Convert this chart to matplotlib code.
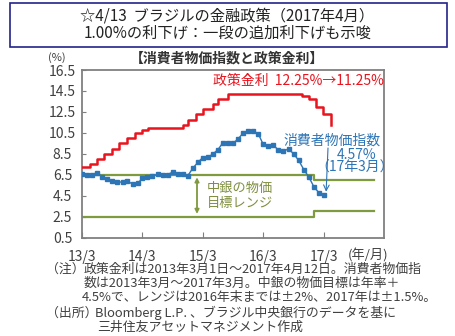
import datetime as dt
import matplotlib
matplotlib.use("Agg")
import matplotlib.pyplot as plt
import matplotlib.dates as mdates
from matplotlib.patches import Rectangle

plt.rcParams['font.family'] = ['Noto Sans CJK JP', 'DejaVu Sans']

# Policy rate (Selic) change dates and levels, %
rate_dates = ["2013-03-01", "2013-04-18", "2013-05-30", "2013-07-11", "2013-08-29",
              "2013-10-10", "2013-11-28", "2014-01-16", "2014-02-27", "2014-04-03",
              "2014-10-30", "2014-12-04", "2015-01-22", "2015-03-05", "2015-04-30",
              "2015-06-04", "2015-07-30", "2016-10-20", "2016-12-01", "2017-01-12",
              "2017-02-23", "2017-04-12"]
rate_values = [7.25, 7.50, 8.00, 8.50, 9.00, 9.50, 10.00, 10.50, 10.75, 11.00,
               11.25, 11.75, 12.25, 12.75, 13.25, 13.75, 14.25, 14.00, 13.75, 13.00,
               12.25, 11.25]

# Consumer price index (IPCA), year-on-year %, 2013/3 - 2017/3
cpi_start = "2013-03"
cpi_values = [6.59, 6.49, 6.50, 6.70, 6.27, 6.09, 5.86, 5.84, 5.77, 5.91,
              5.59, 5.68, 6.15, 6.28, 6.37, 6.52, 6.50, 6.51, 6.75, 6.59, 6.56, 6.41,
              7.14, 7.70, 8.13, 8.17, 8.47, 8.89, 9.56, 9.53, 9.49, 9.93, 10.48, 10.67,
              10.71, 10.36, 9.39, 9.28, 9.32, 8.84, 8.74, 8.97, 8.48, 7.87, 6.99, 6.29,
              5.35, 4.76, 4.57]

# Central bank inflation target range
target_dates = ["2013-03-01", "2017-01-01", "2018-01-01"]
target_upper = [6.5, 6.0, 6.0]
target_lower = [2.5, 3.0, 3.0]

x_ticks = ["2013-03-01", "2014-03-01", "2015-03-01", "2016-03-01", "2017-03-01"]
x_tick_labels = ["13/3", "14/3", "15/3", "16/3", "17/3"]
y_ticks = [0.5, 2.5, 4.5, 6.5, 8.5, 10.5, 12.5, 14.5, 16.5]

RED = "#E8141E"
BLUE = "#2E75B6"
OLIVE = "#7F9A3F"
OLIVE_TXT = "#7F8F3F"
GRAY = "#404040"

def to_date(s):
    return dt.datetime.strptime(s, "%Y-%m-%d")

rd = [to_date(s) for s in rate_dates]
y0, m0 = map(int, cpi_start.split("-"))
cd = []
for i in range(len(cpi_values)):
    m = m0 - 1 + i
    cd.append(dt.datetime(y0 + m // 12, m % 12 + 1, 1))
td = [to_date(s) for s in target_dates]

W, H = 456, 336
fig = plt.figure(figsize=(W / 100, H / 100), dpi=100)

def fx(x):
    return x / W

def fy(y):
    return 1 - y / H

# Title box
fig.patches.append(Rectangle((fx(10), fy(47)), fx(437), 44 / H, transform=fig.transFigure,
                             fill=False, edgecolor="#22228A", linewidth=1.2))
fig.text(fx(227), fy(16), "☆4/13  ブラジルの金融政策（2017年4月）", ha="center", va="center",
         fontsize=11, color="#222222")
fig.text(fx(228), fy(33), "1.00%の利下げ：一段の追加利下げも示唆", ha="center", va="center",
         fontsize=11, color="#222222")

fig.text(fx(227), fy(59), "【消費者物価指数と政策金利】", ha="center", va="center",
         fontsize=10, fontweight="bold", color="#333333")
fig.text(fx(57), fy(58), "(%)", ha="center", va="center", fontsize=8, color=GRAY)

ax = fig.add_axes([fx(82), fy(237.5), (384 - 82) / W, (237.5 - 70) / H])

ax.step(td, target_upper, where="post", color=OLIVE, lw=1.6, zorder=2)
ax.step(td, target_lower, where="post", color=OLIVE, lw=1.6, zorder=2)
ax.step(rd, rate_values, where="post", color=RED, lw=1.8, zorder=3)
ax.plot(cd, cpi_values, color=BLUE, lw=1.0, marker="s", markersize=2.8, zorder=4)

ax.set_xlim(to_date("2013-03-01"), to_date("2018-03-01"))
ax.set_ylim(0.5, 16.5)
ax.set_xticks([to_date(s) for s in x_ticks])
ax.set_xticklabels(x_tick_labels)
ax.set_yticks(y_ticks)
ax.set_yticklabels([f"{v:.1f}" for v in y_ticks])
ax.tick_params(axis="x", direction="in", length=4, pad=9, labelsize=10, colors="#7F7F7F",
               labelcolor=GRAY)
ax.tick_params(axis="y", direction="in", length=3, pad=14, labelsize=10, colors="#7F7F7F",
               labelcolor=GRAY)
for lab in ax.get_yticklabels():
    lab.set_horizontalalignment("center")
for sp in ax.spines.values():
    sp.set_color("#808080")
    sp.set_linewidth(1.3)

fig.text(fx(368), fy(255), "(年/月)", ha="center", va="center", fontsize=9.5, color=GRAY)

# Annotations inside the plot
def afx(x):
    return (x - 82) / (384 - 82)

def afy(y):
    return (237.5 - y) / (237.5 - 70)

ax.text(afx(213), afy(81), "政策金利  12.25%→11.25%", ha="left", va="center",
        fontsize=10, color=RED, transform=ax.transAxes)
ax.text(afx(283), afy(141), "消費者物価指数", ha="left", va="center",
        fontsize=10, color=BLUE, transform=ax.transAxes)
ax.text(afx(357), afy(155), "4.57%", ha="center", va="center",
        fontsize=10, color=BLUE, transform=ax.transAxes)
ax.text(afx(355), afy(168), "（17年3月）", ha="center", va="center",
        fontsize=10, color=BLUE, transform=ax.transAxes)
ax.annotate("", xy=(cd[-1] + dt.timedelta(days=15), cpi_values[-1] + 0.3),
            xytext=(afx(328), afy(148)), textcoords="axes fraction",
            arrowprops=dict(arrowstyle="->", color=BLUE, lw=0.8,
                            shrinkA=0, shrinkB=0))

ax.annotate("", xy=(afx(197), 2.75), xytext=(afx(197), 6.25),
            xycoords=("axes fraction", "data"), textcoords=("axes fraction", "data"),
            arrowprops=dict(arrowstyle="<|-|>", color=OLIVE, lw=1.3,
                            mutation_scale=6, shrinkA=0, shrinkB=0))
ax.text(afx(207), afy(196), "中銀の物価\n目標レンジ", ha="left", va="center",
        fontsize=9.5, color=OLIVE_TXT, linespacing=1.15, transform=ax.transAxes)

# Notes
NOTE = dict(fontsize=9.3, color=GRAY, va="center", ha="left")
fig.text(fx(46), fy(269), "（注）", **NOTE)
fig.text(fx(84), fy(269), "政策金利は2013年3月1日～2017年4月12日。消費者物価指", **NOTE)
fig.text(fx(84), fy(283), "数は2013年3月～2017年3月。中銀の物価目標は年率＋", **NOTE)
fig.text(fx(82), fy(297), "4.5%で、レンジは2016年末までは±2%、2017年は±1.5%。", **NOTE)
fig.text(fx(46), fy(313), "（出所）", **NOTE)
fig.text(fx(95), fy(313), "Bloomberg L.P. 、ブラジル中央銀行のデータを基に", **NOTE)
fig.text(fx(97), fy(327), "三井住友アセットマネジメント作成", **NOTE)

fig.savefig("out.png", dpi=100)
